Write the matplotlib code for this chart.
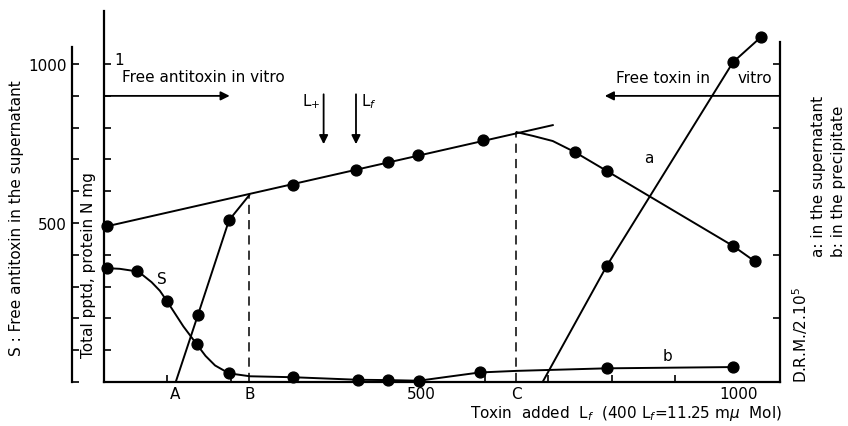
import matplotlib.pyplot as plt

# --- data (x: toxin added, Lf ; y: left S scale) ---
# total pptd protein: straight upper line and its dots
tot_line_x = [5, 707]
tot_line_y = [490, 808]
tot_x = [5, 298, 397, 447, 494, 597]
tot_y = [490, 620, 667, 692, 713, 760]

# rising pptd branch between A and B
rise_x = [113, 148, 197, 229]
rise_y = [0, 211, 509, 588]
rise_dot_x = [148, 197]
rise_dot_y = [211, 509]

# falling pptd branch after C
fall_x = [650, 676, 707, 742, 792, 991, 1025]
fall_y = [786, 774, 758, 723, 664, 428, 380]
fall_dot_x = [742, 792, 991, 1025]
fall_dot_y = [723, 664, 428, 380]

# a: D.R.M. in the supernatant
a_x = [691, 792, 991, 1035]
a_y = [0, 365, 1006, 1085]

# S: free antitoxin in supernatant, running into b (D.R.M. in precipitate)
s_line_x = [5, 25, 45, 60, 75, 88, 99, 112, 125, 146, 160, 175, 190, 205, 230, 298,
            400, 447, 496, 540, 592, 650, 792, 991]
s_line_y = [358, 356, 350, 338, 314, 287, 255, 215, 175, 119, 82, 52, 35, 25, 18, 15,
            7, 6, 4, 16, 30, 35, 43, 47]
s_dot_x = [5, 52, 99, 146, 197, 298, 400, 447, 496, 592, 792, 991]
s_dot_y = [358, 349, 255, 119, 28, 16, 6, 6, 3, 30, 43, 47]

x_marks = [112, 229, 500, 649, 1000]
x_marks_lab = ['A', 'B', '500', 'C', '1000']
B_x, B_top = 229, 588
C_x, C_top = 649, 786

plt.rcParams['font.family'] = 'DejaVu Sans'
fig = plt.figure(figsize=(8.48, 4.27), dpi=100)
ax = fig.add_axes([104/848, 44/427, 676/848, 371/427])
ax.set_xlim(0, 1065)
ax.set_ylim(0, 1167)

lw = 1.4
ms = 7.8
ax.plot(tot_line_x, tot_line_y, color='k', lw=lw)
ax.plot(tot_x, tot_y, 'o', color='k', ms=ms, clip_on=False)
ax.plot(rise_x, rise_y, color='k', lw=lw)
ax.plot(rise_dot_x, rise_dot_y, 'o', color='k', ms=ms)
ax.plot(fall_x, fall_y, color='k', lw=lw)
ax.plot(fall_dot_x, fall_dot_y, 'o', color='k', ms=ms)
ax.plot(a_x, a_y, color='k', lw=lw)
ax.plot(a_x[1:], a_y[1:], 'o', color='k', ms=ms)
ax.plot(s_line_x, s_line_y, color='k', lw=lw)
ax.plot(s_dot_x, s_dot_y, 'o', color='k', ms=ms, clip_on=False)

ax.plot([B_x, B_x], [0, B_top], color='k', lw=1.1, ls=(0, (6, 4)))
ax.plot([C_x, C_x], [0, C_top], color='k', lw=1.1, ls=(0, (6, 4)))

arr = dict(arrowstyle='-|>', color='k', lw=1.3, mutation_scale=13, shrinkA=0, shrinkB=0)
ax.annotate('', xy=(198, 900), xytext=(0, 900), arrowprops=arr)
ax.annotate('', xy=(789, 900), xytext=(1065, 900), arrowprops=arr)
ax.annotate('', xy=(346, 748), xytext=(346, 905), arrowprops=arr)
ax.annotate('', xy=(397, 748), xytext=(397, 905), arrowprops=arr)

fs = 11
ax.text(28, 962, 'Free antitoxin in vitro', fontsize=fs, va='center')
ax.text(806, 958, 'Free toxin in', fontsize=fs, va='center')
ax.text(998, 958, 'vitro', fontsize=fs, va='center')
ax.text(312, 885, 'L$_{+}$', fontsize=fs, va='center')
ax.text(405, 885, 'L$_{f}$', fontsize=fs, va='center')
ax.text(16, 1015, '1', fontsize=fs, va='center')
ax.text(858, 707, 'a', fontsize=fs, va='center', ha='center')
ax.text(888, 82, 'b', fontsize=fs, va='center', ha='center')
ax.text(91, 324, 'S', fontsize=fs, va='center', ha='center')
ax.text(1.003, -0.082, 'Toxin  added  L$_f$  (400 L$_f$=11.25 m$\\mu$  Mol)',
        fontsize=fs, ha='right', va='center', transform=ax.transAxes)

# spines: inner left (protein N), bottom, right (D.R.M.)
ax.spines['top'].set_visible(False)
ax.spines['left'].set_bounds(0, 1167)
ax.spines['right'].set_bounds(0, 1069)
for s in ['left', 'right', 'bottom']:
    ax.spines[s].set_linewidth(1.6)
ax.set_yticks(range(100, 1001, 100))
ax.tick_params(axis='y', left=True, right=False, direction='in', length=5, width=1.2, labelleft=False)
ax.set_xticks(x_marks)
ax.set_xticklabels(x_marks_lab, fontsize=fs)
ax.tick_params(axis='x', length=0, pad=3)
ax.set_xticks(range(100, 1001, 100), minor=True)
ax.tick_params(axis='x', which='minor', direction='in', length=5, width=1.2)

# right axis ticks
axr = ax.twinx()
axr.set_ylim(0, 1167)
for s in ['top', 'left', 'bottom', 'right']:
    axr.spines[s].set_visible(False)
axr.set_yticks(range(200, 1001, 200))
axr.tick_params(axis='y', direction='in', length=5, width=1.2, labelright=False)

# outer S axis
axs = ax.twinx()
axs.set_ylim(0, 1167)
for s in ['top', 'right', 'bottom']:
    axs.spines[s].set_visible(False)
axs.spines['left'].set_position(('axes', -32/676))
axs.spines['left'].set_bounds(0, 1053)
axs.spines['left'].set_linewidth(1.6)
axs.yaxis.set_ticks_position('left')
axs.set_yticks(range(0, 1001, 100))
axs.set_yticklabels(['' if v not in (500, 1000) else str(v) for v in range(0, 1001, 100)], fontsize=fs)
axs.tick_params(axis='y', direction='in', length=5, width=1.2, pad=4)

fig.text(17/848, 1 - 218/427, 'S : Free antitoxin in the supernatant', rotation=90,
         fontsize=fs, ha='center', va='center')
fig.text(88/848, 1 - 265/427, 'Total pptd, protein N mg', rotation=90,
         fontsize=fs, ha='center', va='center')
fig.text(800/848, 1 - 383/427, 'D.R.M./2.10$^5$', rotation=90,
         fontsize=fs, ha='center', va='bottom')
fig.text(818/848, 1 - 257/427, 'a: in the supernatant', rotation=90,
         fontsize=fs, ha='center', va='bottom')
fig.text(838/848, 1 - 257/427, 'b: in the precipitate', rotation=90,
         fontsize=fs, ha='center', va='bottom')

fig.savefig('out.png', dpi=100)
